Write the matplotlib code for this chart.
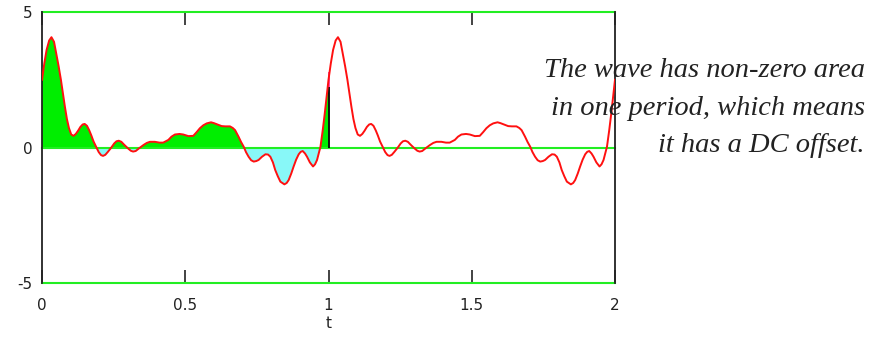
import numpy as np
import matplotlib
matplotlib.use("Agg")
import matplotlib.pyplot as plt

# One period of the wave (t, value)
t_period = [0.000, 0.008, 0.016, 0.025, 0.033, 0.042, 0.050, 0.058, 0.066, 0.073,
            0.080, 0.087, 0.094, 0.102, 0.110, 0.118, 0.126, 0.134, 0.142, 0.149,
            0.157, 0.165, 0.172, 0.180, 0.190, 0.198, 0.206, 0.213, 0.221, 0.230,
            0.242, 0.252, 0.260, 0.268, 0.277, 0.287, 0.300, 0.310, 0.318, 0.327,
            0.340, 0.354, 0.366, 0.377, 0.394, 0.410, 0.423, 0.441, 0.452, 0.464,
            0.480, 0.493, 0.511, 0.528, 0.540, 0.551, 0.563, 0.575, 0.590, 0.600,
            0.610, 0.627, 0.640, 0.656, 0.666, 0.674, 0.686, 0.695, 0.704, 0.712,
            0.721, 0.730, 0.739, 0.748, 0.756, 0.768, 0.780, 0.789, 0.797, 0.806,
            0.814, 0.823, 0.832, 0.846, 0.854, 0.861, 0.870, 0.878, 0.887, 0.896,
            0.903, 0.910, 0.918, 0.925, 0.935, 0.946, 0.953, 0.960, 0.966, 0.972,
            0.980, 0.987, 0.992]
v_period = [2.50, 3.10, 3.60, 3.95, 4.07, 3.90, 3.45, 3.00, 2.50, 2.00,
            1.50, 1.05, 0.72, 0.48, 0.43, 0.50, 0.62, 0.76, 0.85, 0.87,
            0.80, 0.63, 0.45, 0.22, 0.00, -0.17, -0.28, -0.31, -0.27, -0.16,
            0.00, 0.15, 0.23, 0.25, 0.21, 0.10, -0.03, -0.12, -0.15, -0.13,
            -0.02, 0.09, 0.17, 0.21, 0.21, 0.18, 0.18, 0.28, 0.40, 0.48,
            0.50, 0.48, 0.42, 0.43, 0.57, 0.71, 0.82, 0.89, 0.93, 0.90,
            0.86, 0.79, 0.78, 0.78, 0.72, 0.64, 0.40, 0.20, 0.03, -0.17,
            -0.34, -0.47, -0.52, -0.50, -0.46, -0.34, -0.25, -0.26, -0.34, -0.55,
            -0.83, -1.06, -1.26, -1.36, -1.31, -1.20, -0.96, -0.71, -0.45, -0.25,
            -0.16, -0.13, -0.22, -0.34, -0.55, -0.70, -0.62, -0.46, -0.22, 0.03,
            0.65, 1.26, 1.75]
n_periods = 2
x_ticks = [0, 0.5, 1, 1.5, 2]
x_tick_labels = ["0", "0.5", "1", "1.5", "2"]
y_ticks = [-5, 0, 5]
y_tick_labels = ["-5", "0", "5"]
stem_t = 1.0
stem_black_top = 2.24
stem_magenta_top = 2.8
note = "The wave has non-zero area\nin one period, which means\nit has a DC offset."

tp = np.array(t_period)
vp = np.array(v_period)
t = np.concatenate([tp + k for k in range(n_periods)] + [[float(n_periods)]])
v = np.concatenate([vp for _ in range(n_periods)] + [[vp[0]]])

fig = plt.figure(figsize=(8.75, 3.4), dpi=100)
ax = fig.add_axes([42/875, 1-283/340, (615-42)/875, (283-12)/340])

green = "#00ee00"
cyan = "#88f8f8"

# fill over first period
m = t <= 1.0 + 1e-9
tf, vf = t[m], v[m]
ax.fill_between(tf, 0, vf, where=vf >= 0, interpolate=True, color=green, lw=0, zorder=1)
ax.fill_between(tf, 0, vf, where=vf <= 0, interpolate=True, color=cyan, lw=0, zorder=1)

for yy in y_ticks:
    ax.axhline(yy, color="#22ee22", lw=1.5, zorder=2, clip_on=False)

ax.vlines(stem_t, 0, stem_black_top, color="black", lw=1.3, zorder=3)
ax.vlines(stem_t, stem_black_top, stem_magenta_top, color="#ff33aa", lw=1.3, zorder=3)

ax.plot(t, v, color="#ff1010", lw=1.4, zorder=4)

ax.set_xlim(0, 2)
ax.set_ylim(-5, 5)
ax.set_xticks(x_ticks)
ax.set_xticklabels(x_tick_labels)
ax.set_yticks(y_ticks)
ax.set_yticklabels(y_tick_labels)
ax.tick_params(axis="x", direction="in", length=9.5, width=1.2, top=True, bottom=True,
               pad=11, labelsize=11, colors="#222222")
ax.tick_params(axis="y", length=0, pad=7, labelsize=11, labelcolor="#222222")
for s in ["top", "bottom"]:
    ax.spines[s].set_visible(False)
for s in ["left", "right"]:
    ax.spines[s].set_color("#222222")
    ax.spines[s].set_linewidth(1.3)
ax.set_xlabel("t", fontsize=11, labelpad=2, color="#222222")

lines = note.split("\n")
ys = [77, 115, 152]
for line, yy in zip(lines, ys):
    fig.text(865/875, 1-yy/340, line, ha="right", va="baseline",
             fontsize=20.5, fontstyle="italic", family="Liberation Serif",
             color="#222222", zorder=10)

fig.savefig("out.png", dpi=100)
